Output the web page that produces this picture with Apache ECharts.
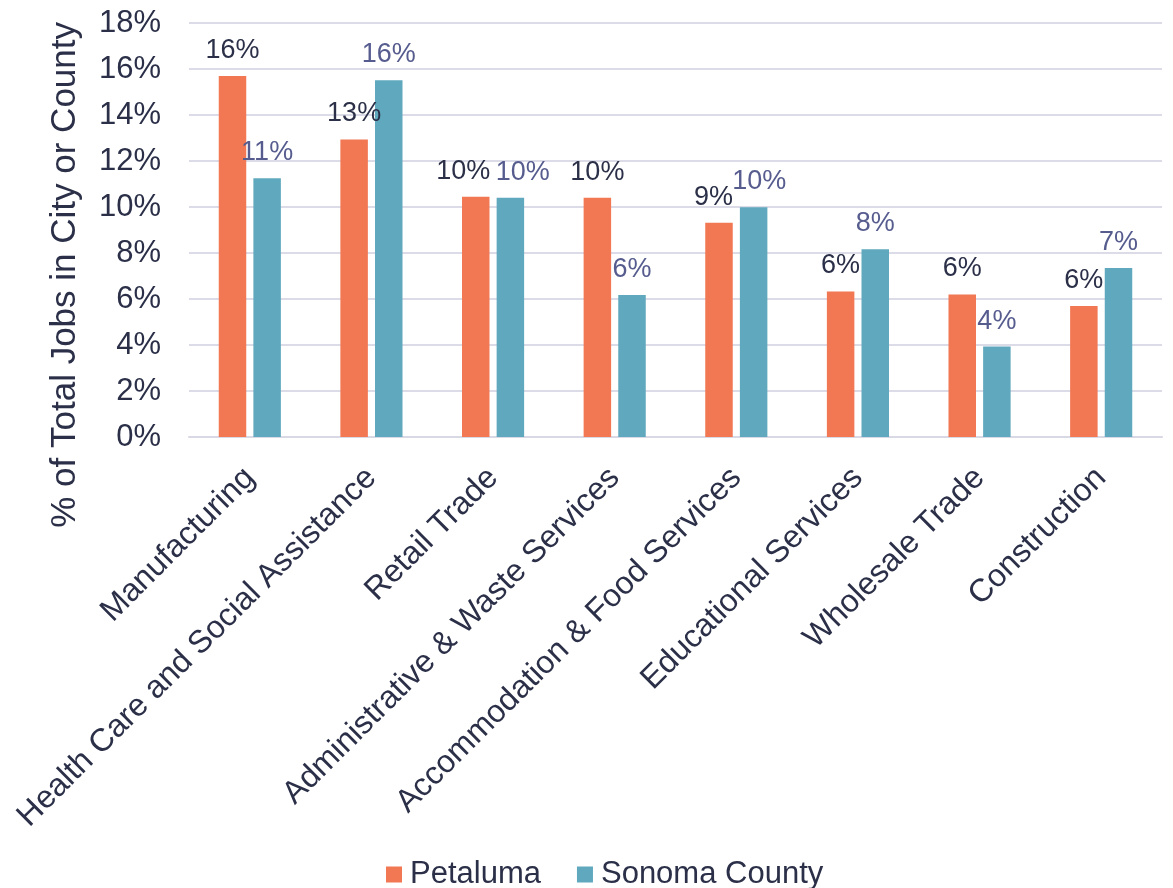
<!DOCTYPE html>
<html>
<head>
<meta charset="utf-8">
<script src="https://cdn.jsdelivr.net/npm/echarts@6/dist/echarts.min.js"></script>
<style>html,body{margin:0;padding:0;background:#fff}#c{width:1173px;height:888px}</style>
</head>
<body>
<div id="c"></div>
<script>
const categories = ["Manufacturing","Health Care and Social Assistance","Retail Trade","Administrative & Waste Services","Accommodation & Food Services","Educational Services","Wholesale Trade","Construction"];
const petaluma = [15.70, 12.94, 10.45, 10.40, 9.32, 6.33, 6.20, 5.70];
const sonoma = [11.25, 15.51, 10.40, 6.17, 9.99, 8.16, 3.93, 7.35];
const yTicks = [0, 2, 4, 6, 8, 10, 12, 14, 16, 18];
const seriesNames = ["Petaluma", "Sonoma County"];

const font = "Liberation Sans, Arial, sans-serif";
const allSeries = [petaluma, sonoma];

// Push apart the two labels of a category when they would collide.
function avoidOverlap(params) {
  const i = params.dataIndex, s = params.seriesIndex;
  const v = allSeries[s][i];
  if (!v || !params.rect || !params.labelRect) return {};
  const scale = params.rect.height / v;
  const dy = Math.abs(petaluma[i] - sonoma[i]) * scale;
  const h = params.labelRect.height;
  if (dy < h * 0.9) {
    const shift = 13 * (1 - dy / h);
    return { dx: s === 0 ? -shift : shift };
  }
  return {};
}

const chart = echarts.init(document.getElementById('c'));
chart.setOption({
  animation: false,
  textStyle: { fontFamily: font },
  grid: { left: 189, right: 11, top: 23, bottom: 451 },
  legend: {
    data: seriesNames,
    left: 381, top: 854,
    itemWidth: 16, itemHeight: 16, itemGap: 36,
    icon: 'rect',
    textStyle: { fontSize: 31, color: '#2b3048', fontFamily: font, padding: [0, 0, 0, 3] }
  },
  graphic: [{
    type: 'text',
    left: 48, top: 22,
    rotation: Math.PI / 2,
    style: {
      text: '% of Total Jobs in City or County',
      fontSize: 35, fill: '#2b3048', fontFamily: font
    }
  }],
  xAxis: {
    type: 'category',
    data: categories,
    axisLine: { show: true, lineStyle: { color: '#d9d9e6', width: 2 } },
    axisTick: { show: false },
    axisLabel: { rotate: 45, fontSize: 32, color: '#2b3048', margin: 36, interval: 0, fontFamily: font }
  },
  yAxis: {
    type: 'value',
    min: yTicks[0], max: yTicks[yTicks.length - 1], interval: 2,
    axisLine: { show: false },
    axisTick: { show: false },
    axisLabel: { formatter: v => v + '%', fontSize: 31, color: '#2b3048', margin: 28, fontFamily: font },
    splitLine: { lineStyle: { color: '#dcdce8', width: 2 } }
  },
  series: [
    {
      name: seriesNames[0], type: 'bar', data: petaluma,
      barWidth: '22.6%', barGap: '26%',
      itemStyle: { color: '#F27753' },
      labelLayout: avoidOverlap,
      label: { show: true, position: 'top', distance: 12, formatter: p => Math.round(p.value) + '%', fontSize: 27, color: '#2b3048', fontFamily: font }
    },
    {
      name: seriesNames[1], type: 'bar', data: sonoma,
      barWidth: '22.6%', barGap: '26%',
      itemStyle: { color: '#5FA8BD' },
      labelLayout: avoidOverlap,
      label: { show: true, position: 'top', distance: 12, formatter: p => Math.round(p.value) + '%', fontSize: 27, color: '#565c8e', fontFamily: font }
    }
  ]
});
</script>
</body>
</html>
